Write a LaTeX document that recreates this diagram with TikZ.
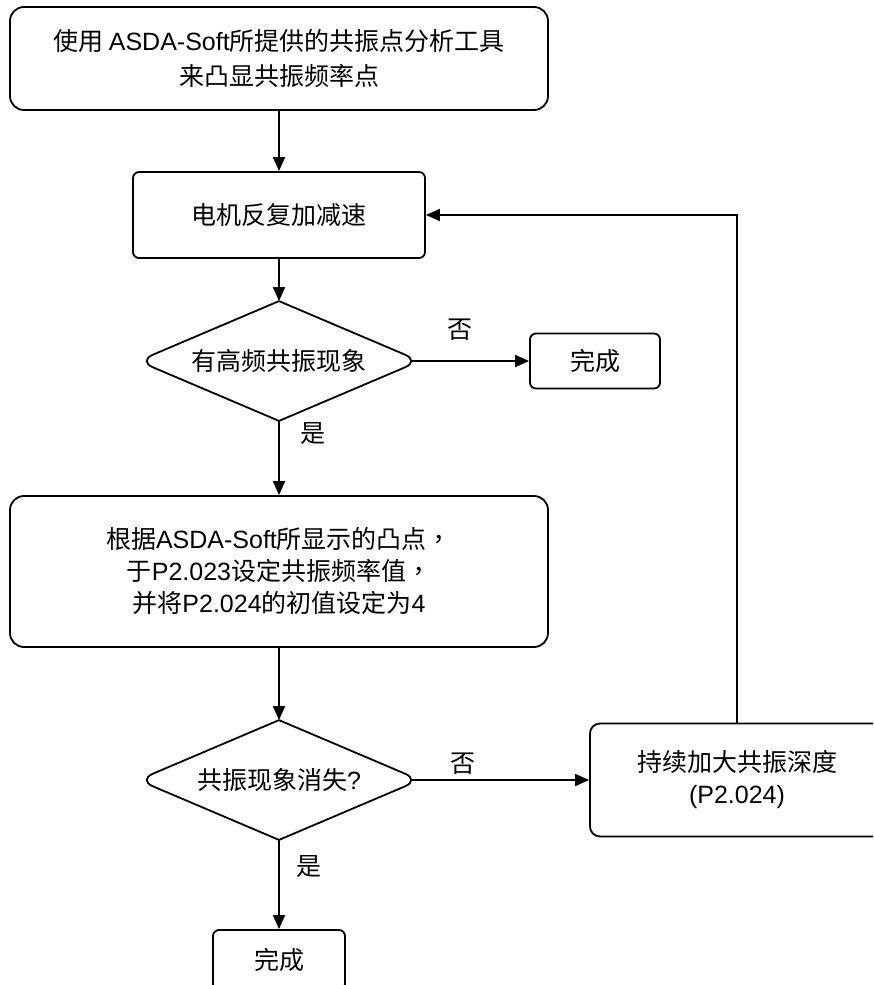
\documentclass[tikz,border=0pt]{standalone}
\usepackage{fontspec}
\setmainfont{Noto Sans CJK SC}
\newfontfamily\lat{Liberation Sans}
\newfontfamily\cjktc{Noto Sans CJK TC}
\usetikzlibrary{arrows.meta,shapes.geometric}

\begin{document}
\begin{tikzpicture}[x=0.5pt,y=-0.5pt,>={Triangle[length=7pt,width=6pt]},line width=0.9pt,
    every node/.style={font=\fontsize{12.5}{16}\selectfont},
    proc/.style={draw,rounded corners=3pt,align=center,inner sep=0pt},
    test/.style={shape=diamond,aspect=2.3,inner sep=0pt,minimum width=140pt,minimum height=59pt}]
  \clip (0,0) rectangle (873,985);

  % Steps
  \node[proc,rounded corners=7pt,minimum width=269pt,minimum height=51.5pt,
    font=\fontsize{12.5}{17.5}\selectfont] (tool) at (279,58.5)
    {使用 {\lat ASDA-Soft}所提供的共振点分析工具\\来凸显共振频率点};
  \node[proc,minimum width=146pt,minimum height=43pt] (accel) at (279,215) {电机反复加减速};
  \node[proc,rounded corners=7pt,minimum width=269pt,minimum height=75.5pt] (setf) at (279,571.5)
    {根据{\lat ASDA-Soft}所显示的凸点{\cjktc ，}\\于{\lat P2.023}设定共振频率值{\cjktc ，}\\并将{\lat P2.024}的初值设定为{\lat 4}};
  \node[proc,rounded corners=5pt,minimum width=147pt,minimum height=56.5pt] (depth) at (737,780)
    {持续加大共振深度\\{\lat (P2.024)}};

  % Ends
  \node[proc,minimum width=65pt,minimum height=27.5pt] (done1) at (595,361) {完成};
  \node[proc,minimum width=66pt,minimum height=30pt] (done2) at (279,960) {完成};

  % Decisions
  \node[test] (high) at (279,361) {有高频共振现象};
  \node[test] (gone) at (279,780) {共振现象消失{\lat ?}};
  \draw[rounded corners=8pt] (high.north) -- (high.east) -- (high.south);
  \draw[rounded corners=8pt] (high.south) -- (high.west) -- (high.north);
  \draw[rounded corners=8pt] (gone.north) -- (gone.east) -- (gone.south);
  \draw[rounded corners=8pt] (gone.south) -- (gone.west) -- (gone.north);

  % Flow
  \draw[->] (tool) -- (accel);
  \draw[->] (accel) -- (high);
  \draw[->] ([xshift=-4.3pt]high.east) -- (done1);
  \draw[->] (high) -- (setf);
  \draw[->] (setf) -- (gone);
  \draw[->] ([xshift=-4.3pt]gone.east) -- (depth);
  \draw[->] (gone) -- (done2);
  \draw[->] (depth.north) |- (accel.east);

  % Branch labels
  \node (no1) at (460,330) {否};
  \node (yes1) at (313,434) {是};
  \node (no2) at (463,764) {否};
  \node (yes2) at (309,867) {是};
\end{tikzpicture}
\end{document}
